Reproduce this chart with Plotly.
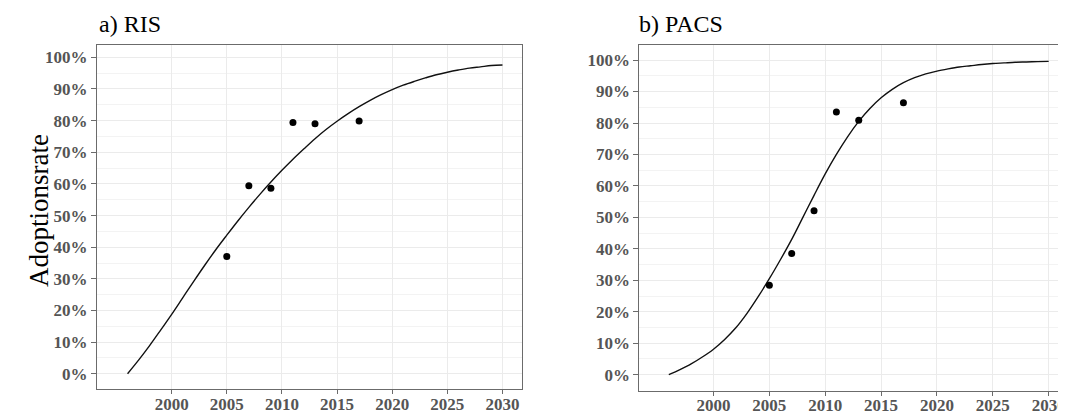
import plotly.graph_objects as go

# page body has an 8px margin, so the figure is laid out in page pixels minus that offset
OFF = 8
W, H = 1066 - OFF, 414 - OFF

# ---- data ----
obs_years = [2005, 2007, 2009, 2011, 2013, 2017]
ris_obs = [0.371, 0.594, 0.586, 0.794, 0.790, 0.799]
pacs_obs = [0.284, 0.385, 0.521, 0.835, 0.809, 0.864]

curve_years = [1996, 1997, 1998, 1999, 2000, 2001, 2002, 2003, 2004, 2005, 2006, 2007,
               2008, 2009, 2010, 2011, 2012, 2013, 2014, 2015, 2016, 2017, 2018, 2019,
               2020, 2021, 2022, 2023, 2024, 2025, 2026, 2027, 2028, 2029, 2030]
ris_curve = [0.000, 0.043, 0.089, 0.138, 0.188, 0.240, 0.292, 0.343, 0.392, 0.438, 0.483,
             0.526, 0.567, 0.606, 0.643, 0.678, 0.711, 0.743, 0.772, 0.798, 0.822, 0.844,
             0.864, 0.882, 0.898, 0.912, 0.924, 0.935, 0.945, 0.953, 0.960, 0.966, 0.970,
             0.974, 0.976]
pacs_curve = [0.000, 0.016, 0.034, 0.056, 0.081, 0.112, 0.149, 0.195, 0.248, 0.305, 0.366,
              0.430, 0.500, 0.570, 0.638, 0.700, 0.756, 0.805, 0.846, 0.880, 0.907, 0.928,
              0.944, 0.956, 0.965, 0.972, 0.978, 0.982, 0.986, 0.989, 0.991, 0.993, 0.994,
              0.995, 0.996]

y_ticks = [i / 10 for i in range(11)]
y_labels = [f"{i * 10}%" for i in range(11)]
x_ticks = [2000, 2005, 2010, 2015, 2020, 2025, 2030]
x_labels = [str(v) for v in x_ticks]
panel_titles = ["a) RIS", "b) PACS"]
y_title = "Adoptionsrate"

SERIF = "Liberation Serif, Times New Roman, serif"

fig = go.Figure()
fig.add_trace(go.Scatter(x=curve_years, y=ris_curve, mode="lines",
                         line=dict(color="#111111", width=1.4, shape="spline"),
                         xaxis="x", yaxis="y", showlegend=False, hoverinfo="skip"))
fig.add_trace(go.Scatter(x=obs_years, y=ris_obs, mode="markers", marker=dict(color="black", size=7),
                         xaxis="x", yaxis="y", showlegend=False))
fig.add_trace(go.Scatter(x=curve_years, y=pacs_curve, mode="lines",
                         line=dict(color="#111111", width=1.4, shape="spline"),
                         xaxis="x2", yaxis="y2", showlegend=False, hoverinfo="skip"))
fig.add_trace(go.Scatter(x=obs_years, y=pacs_obs, mode="markers", marker=dict(color="black", size=7),
                         xaxis="x2", yaxis="y2", showlegend=False))


def px_x(p):
    return (p - OFF) / W


def px_y(p):
    return (H - (p - OFF)) / H


axis_line = "#6b6b6b"
tickfont = dict(family=SERIF, size=17, color="#555555")

common_x = dict(tickvals=x_ticks, ticktext=[f"<b>{t}</b>" for t in x_labels],
                ticks="outside", ticklen=4, tickcolor=axis_line, tickwidth=1,
                ticklabelstandoff=-5,
                showgrid=True, gridcolor="#EBEBEB", gridwidth=1, zeroline=False,
                showline=True, linecolor=axis_line, linewidth=1, tickfont=tickfont,
                automargin=False, fixedrange=True)
common_y = dict(tickvals=y_ticks, ticktext=[f"<b>{t}</b>" for t in y_labels],
                ticks="outside", ticklen=5, tickcolor=axis_line,
                tickwidth=1, showgrid=True, gridcolor="#EBEBEB", gridwidth=1, zeroline=False,
                showline=True, linecolor=axis_line, linewidth=1, tickfont=tickfont,
                minor=dict(dtick=0.05, tick0=0, showgrid=True, gridcolor="#F3F3F3", gridwidth=0.8, ticks=""),
                automargin=False, fixedrange=True)

fig.update_layout(
    width=W, height=H, autosize=False,
    margin=dict(l=0, r=0, t=0, b=0),
    paper_bgcolor="white", plot_bgcolor="white",
    xaxis=dict(common_x, domain=[px_x(97), px_x(522)], range=[1993.23, 2031.77], anchor="y", mirror=True),
    yaxis=dict(common_y, domain=[px_y(389.3), px_y(45)], range=[-0.049, 1.039], anchor="x", mirror=True),
    xaxis2=dict(common_x, domain=[px_x(639.3), 1.0], range=[1993.36, 2031.55], anchor="y2", mirror=True),
    yaxis2=dict(common_y, domain=[px_y(390.7), px_y(45.3)], range=[-0.051, 1.047], anchor="x2", mirror=False),
)

fig.add_annotation(text=panel_titles[0], xref="paper", yref="paper", x=px_x(97), y=px_y(24.5),
                   xanchor="left", yanchor="middle", showarrow=False,
                   font=dict(family=SERIF, size=24, color="black"))
fig.add_annotation(text=panel_titles[1], xref="paper", yref="paper", x=px_x(637), y=px_y(24.5),
                   xanchor="left", yanchor="middle", showarrow=False,
                   font=dict(family=SERIF, size=24, color="black"))
fig.add_annotation(text=y_title, xref="paper", yref="paper", x=px_x(39), y=px_y(211),
                   xanchor="center", yanchor="middle", textangle=-90, showarrow=False,
                   font=dict(family=SERIF, size=27, color="black"))

fig.write_html("out.html")
